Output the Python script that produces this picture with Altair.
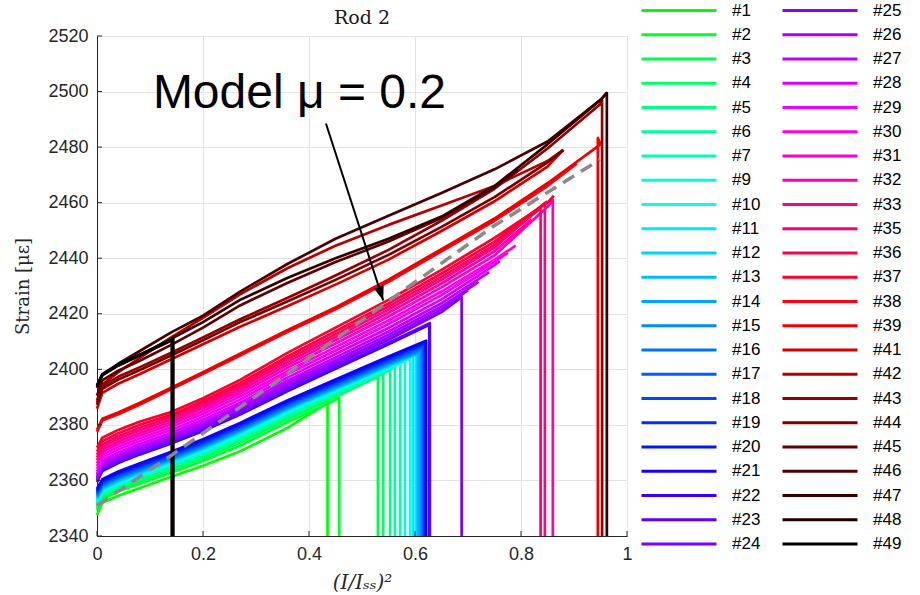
import altair as alt
import pandas as pd

# ---------------- data ----------------
LABELS = ["#1", "#2", "#3", "#4", "#5", "#6", "#7", "#9", "#10", "#11", "#12", "#13",
          "#14", "#15", "#16", "#17", "#18", "#19", "#20", "#21", "#22", "#23", "#24",
          "#25", "#26", "#27", "#28", "#29", "#30", "#31", "#32", "#33", "#35", "#36",
          "#37", "#38", "#39", "#41", "#42", "#43", "#44", "#45", "#46", "#47", "#48", "#49"]

COLORS = ["#00ff00", "#00ff2b", "#00ff4d", "#00ff6b", "#00ff88", "#00ffa3", "#00ffbe",
          "#00ffd8", "#00fff0", "#00eaff", "#00d2ff", "#00bbff", "#00a3ff", "#008cff",
          "#0074ff", "#005dff", "#0045ff", "#002eff", "#0016ff", "#1400ff", "#3800ff",
          "#5c00ff", "#7a00ff", "#8f00ff", "#a600ff", "#bd00ff", "#d600ff", "#f000ff",
          "#ff00e6", "#ff00c8", "#ff00a8", "#ff0088", "#ff0066", "#ff0048", "#ff002b",
          "#ff0010", "#f00000", "#d20000", "#b40000", "#960000", "#7a0000", "#600000",
          "#4a0000", "#340000", "#1e0000", "#000000"]

# (I/Iss)^2 sample points shared by all runs
GRID_X = [0, 0.01, 0.04, 0.08, 0.14, 0.2, 0.27, 0.36, 0.45, 0.55, 0.65, 0.75, 0.85, 0.95]

# strain read at GRID_X (only points before each run's end)
STRAIN = [
    [2347.5, 2352.0, 2354.5, 2357.2, 2361.3, 2365.3, 2370.5, 2379.0],
    [2349.2, 2353.3, 2356.0, 2358.8, 2362.8, 2367.0, 2372.5, 2381.0, 2389.0],
    [2350.0, 2354.0, 2356.8, 2359.6, 2363.7, 2368.0, 2373.7, 2382.0, 2390.0],
    [2350.5, 2354.5, 2357.3, 2360.1, 2364.2, 2368.6, 2374.3, 2382.6, 2390.5],
    [2351.0, 2354.9, 2357.7, 2360.6, 2364.7, 2369.1, 2374.9, 2383.2, 2391.0, 2399.5],
    [2351.4, 2355.3, 2358.1, 2361.0, 2365.1, 2369.6, 2375.4, 2383.7, 2391.4, 2399.8],
    [2351.8, 2355.6, 2358.4, 2361.3, 2365.5, 2370.0, 2375.9, 2384.1, 2391.8, 2400.1],
    [2352.2, 2356.0, 2358.8, 2361.7, 2365.9, 2370.4, 2376.3, 2384.5, 2392.1, 2400.4],
    [2352.6, 2356.3, 2359.1, 2362.0, 2366.3, 2370.8, 2376.7, 2384.9, 2392.4, 2400.7],
    [2353.0, 2356.7, 2359.5, 2362.4, 2366.7, 2371.2, 2377.1, 2385.3, 2392.7, 2401.0],
    [2353.4, 2357.0, 2359.8, 2362.7, 2367.0, 2371.5, 2377.4, 2385.6, 2393.0, 2401.3],
    [2353.8, 2357.3, 2360.1, 2363.0, 2367.3, 2371.8, 2377.7, 2385.9, 2393.3, 2401.6],
    [2354.2, 2357.7, 2360.5, 2363.4, 2367.6, 2372.1, 2378.0, 2386.2, 2393.6, 2401.9],
    [2354.6, 2358.0, 2360.8, 2363.7, 2367.9, 2372.4, 2378.3, 2386.5, 2393.9, 2402.2],
    [2355.0, 2358.4, 2361.2, 2364.1, 2368.3, 2372.8, 2378.7, 2386.9, 2394.3, 2402.6],
    [2355.4, 2358.8, 2361.6, 2364.5, 2368.7, 2373.2, 2379.1, 2387.3, 2394.7, 2403.0],
    [2355.8, 2359.2, 2362.0, 2364.9, 2369.1, 2373.6, 2379.5, 2387.7, 2395.1, 2403.4],
    [2356.2, 2359.6, 2362.4, 2365.3, 2369.5, 2374.0, 2379.9, 2388.1, 2395.5, 2403.8],
    [2356.6, 2360.0, 2362.8, 2365.7, 2369.9, 2374.4, 2380.3, 2388.5, 2395.9, 2404.2],
    [2357.0, 2360.4, 2363.2, 2366.1, 2370.3, 2374.8, 2380.7, 2388.9, 2396.3, 2404.6],
    [2359.4, 2363.4, 2366.3, 2369.3, 2373.3, 2377.8, 2383.7, 2392.2, 2400.2, 2409.0],
    [2359.9, 2363.9, 2366.8, 2369.8, 2373.8, 2378.3, 2384.2, 2392.8, 2400.8, 2409.6],
    [2360.5, 2364.5, 2367.4, 2370.4, 2374.4, 2378.9, 2384.8, 2393.5, 2401.6, 2410.6, 2420.6],
    [2361.0, 2365.0, 2367.9, 2370.9, 2375.0, 2379.5, 2385.5, 2394.3, 2402.4, 2411.5, 2421.6],
    [2361.6, 2365.6, 2368.5, 2371.5, 2375.6, 2380.2, 2386.2, 2395.1, 2403.3, 2412.5, 2422.6],
    [2362.3, 2366.3, 2369.2, 2372.2, 2376.3, 2381.0, 2387.1, 2396.0, 2404.3, 2413.6, 2423.8],
    [2363.2, 2367.2, 2370.1, 2373.1, 2377.2, 2381.9, 2388.0, 2397.1, 2405.5, 2414.9, 2425.2, 2437.5],
    [2364.2, 2368.2, 2371.1, 2374.1, 2378.2, 2382.9, 2389.1, 2398.3, 2406.8, 2416.3, 2426.7, 2438.6],
    [2365.2, 2369.2, 2372.1, 2375.1, 2379.2, 2384.0, 2390.2, 2399.4, 2408.0, 2417.6, 2428.0, 2439.5],
    [2366.2, 2370.2, 2373.1, 2376.1, 2380.2, 2385.0, 2391.3, 2400.6, 2409.3, 2419.0, 2429.5, 2441.0, 2458.5],
    [2367.2, 2371.1, 2374.0, 2377.0, 2381.1, 2386.0, 2392.3, 2401.7, 2410.5, 2420.3, 2430.9, 2442.5],
    [2368.2, 2372.1, 2375.0, 2378.0, 2382.0, 2386.9, 2393.3, 2402.7, 2411.6, 2421.5, 2432.2, 2443.8],
    [2369.2, 2373.0, 2375.9, 2378.9, 2382.9, 2387.8, 2394.2, 2403.7, 2412.6, 2422.6, 2433.3, 2444.8],
    [2370.4, 2374.1, 2377.0, 2380.0, 2383.6, 2388.6, 2395.1, 2404.7, 2413.7, 2423.7, 2434.5, 2446.0],
    [2371.8, 2375.4, 2378.2, 2381.1, 2384.6, 2389.6, 2396.2, 2406.0, 2415.0, 2425.0, 2435.8, 2447.3, 2460.0],
    [2377.5, 2381.6, 2383.8, 2387.2, 2392.8, 2398.4, 2405.0, 2413.5, 2421.6, 2431.5, 2442.5, 2453.5, 2466.0],
    [2378.2, 2382.2, 2384.5, 2387.9, 2393.4, 2399.0, 2405.6, 2414.2, 2422.3, 2432.3, 2443.3, 2454.3, 2467.0, 2481.0],
    [2385.8, 2391.5, 2394.8, 2398.2, 2403.6, 2409.0, 2415.3, 2422.8, 2430.5, 2439.5, 2449.8, 2460.5, 2473.0],
    [2388.0, 2394.5, 2399.0, 2404.0, 2411.5, 2418.5, 2427.0, 2436.5, 2444.5, 2452.0, 2459.0, 2466.0, 2475.0],
    [2388.8, 2394.0, 2397.3, 2400.7, 2406.0, 2411.5, 2418.0, 2425.8, 2433.8, 2443.0, 2453.5, 2465.0, 2479.5, 2495.5],
    [2387.2, 2393.0, 2396.3, 2399.7, 2405.0, 2410.5, 2417.0, 2424.5, 2432.2, 2441.2, 2451.3, 2462.0, 2474.5],
    [2390.5, 2396.0, 2399.5, 2403.0, 2408.8, 2415.0, 2423.0, 2431.2, 2438.6, 2446.0, 2454.5, 2465.5],
    [2393.3, 2398.0, 2402.0, 2406.5, 2413.3, 2419.3, 2428.0, 2438.0, 2447.0, 2455.3, 2463.5, 2472.0, 2482.0, 2497.0],
    [2393.6, 2397.8, 2401.3, 2405.0, 2411.0, 2417.0, 2425.0, 2433.0, 2440.0, 2447.0, 2455.0, 2466.0, 2481.0, 2497.0],
    [2394.0, 2398.0, 2401.5, 2405.0, 2410.3],
    [2394.3, 2398.3, 2401.8, 2405.3, 2410.6],
]

END_X = [0.435, 0.457, 0.530, 0.540, 0.553, 0.562, 0.572, 0.581, 0.591, 0.597, 0.603, 0.606,
         0.609, 0.612, 0.614, 0.616, 0.618, 0.619, 0.620, 0.621, 0.627, 0.628, 0.688,
         0.700, 0.720, 0.740, 0.760, 0.775, 0.790, 0.860, 0.820, 0.845, 0.837, 0.850,
         0.862, 0.905, 0.945, 0.880, 0.880, 0.953, 0.880, 0.795, 0.962, 0.962, 0.141, 0.144]
END_Y = [2387.8, 2389.8, 2397.4, 2398.4, 2399.9, 2401.1, 2402.1, 2403.0, 2404.0, 2404.8, 2405.5, 2406.0,
         2406.5, 2407.0, 2407.6, 2408.3, 2408.9, 2409.4, 2409.9, 2410.3, 2416.0, 2416.6, 2426.0,
         2428.5, 2431.5, 2435.0, 2439.0, 2442.0, 2444.5, 2461.0, 2454.0, 2459.9, 2458.0, 2460.5,
         2462.5, 2474.0, 2483.3, 2479.0, 2479.0, 2497.0, 2479.0, 2471.8, 2499.5, 2499.5, 2410.5, 2410.9]
# 1 = run ended in a quench (strain falls to the bottom of the axis)
QUENCH = [1, 1, 1, 1, 1, 1, 1, 1, 1, 1, 1, 1,
          1, 1, 1, 1, 1, 1, 1, 1, 1, 1, 1,
          0, 0, 0, 0, 0, 0, 1, 0, 1, 1, 0,
          0, 0, 1, 0, 0, 1, 0, 0, 0, 1, 1, 1]
AXIS_FLOOR = 2340

MODEL_X = [0, 0.14, 0.338, 0.553, 0.748, 0.949]
MODEL_Y = [2351.0, 2369.0, 2395.5, 2425.0, 2451.5, 2475.5]

ANNOT_TEXT = ["Model \u03bc = 0.2"]
ANNOT_X = [0.382]
ANNOT_Y = [2494.2]
ARROW_X = [0.432]
ARROW_Y = [2488.5]
ARROW_X2 = [0.540]
ARROW_Y2 = [2424.8]

X_TICKS = [0, 0.2, 0.4, 0.6, 0.8, 1]
Y_TICKS = [2340, 2360, 2380, 2400, 2420, 2440, 2460, 2480, 2500, 2520]

# ---------------- tables ----------------
rows = []
for k, lab in enumerate(LABELS):
    seq = 0
    for gx, gy in zip(GRID_X, STRAIN[k]):
        rows.append({"series": lab, "seq": seq, "x": gx, "y": gy})
        seq += 1
    rows.append({"series": lab, "seq": seq, "x": END_X[k], "y": END_Y[k]})
    seq += 1
    if QUENCH[k]:
        rows.append({"series": lab, "seq": seq, "x": END_X[k], "y": AXIS_FLOOR})
runs = pd.DataFrame(rows)

model = pd.DataFrame({"x": MODEL_X, "y": MODEL_Y})
annot = pd.DataFrame({"x": ANNOT_X, "y": ANNOT_Y, "t": ANNOT_TEXT})
arrow = pd.DataFrame({"x": ARROW_X, "y": ARROW_Y, "x2": ARROW_X2, "y2": ARROW_Y2})
head = pd.DataFrame({"x": ARROW_X2, "y": ARROW_Y2})
xt = pd.DataFrame({"x": X_TICKS})
yt = pd.DataFrame({"y": Y_TICKS})

AX = "#262626"
x_scale = alt.Scale(domain=[0, 1], nice=False, zero=False)
y_scale = alt.Scale(domain=[2340, 2520], nice=False, zero=False)
x_axis = alt.Axis(values=X_TICKS, format="~g", title="(I/I\u209b\u209b)\u00b2",
                  titleFont="DejaVu Serif", titleFontStyle="italic", titleFontWeight="normal",
                  titleFontSize=20, titleColor=AX, titleY=46, titleBaseline="middle",
                  labelFont="Liberation Sans", labelFontSize=18, labelColor=AX, labelPadding=9,
                  labelFlush=False, ticks=False, tickSize=0, domainColor=AX, domainWidth=1,
                  gridColor="#e3e3e3", gridWidth=1)
y_axis = alt.Axis(values=Y_TICKS, format="d", title="Strain [\u03bc\u03b5]",
                  titleFont="DejaVu Serif", titleFontWeight="normal", titleFontSize=18,
                  titleColor=AX, titlePadding=15,
                  labelFont="Liberation Sans", labelFontSize=18, labelColor=AX, labelPadding=9,
                  labelFlush=False, ticks=False, tickSize=0, domainColor=AX, domainWidth=1,
                  gridColor="#e3e3e3", gridWidth=1)

X = alt.X("x:Q", scale=x_scale, axis=x_axis)
Y = alt.Y("y:Q", scale=y_scale, axis=y_axis)

lines = alt.Chart(runs).mark_line(strokeWidth=2.7, strokeJoin="round").encode(
    x=X, y=Y,
    color=alt.Color("series:N", scale=alt.Scale(domain=LABELS, range=COLORS),
                    legend=alt.Legend(title=None, orient="none", legendX=543, legendY=-35.5,
                                      columns=2, symbolType="stroke", symbolSize=5625,
                                      symbolStrokeWidth=3, clipHeight=20, rowPadding=4.25,
                                      columnPadding=20, labelFontSize=17, symbolLimit=60,
                                      labelFont="Liberation Sans", labelColor="#000000",
                                      labelOffset=14, padding=0, symbolOffset=0)),
    order="seq:Q",
)

model_line = alt.Chart(model).mark_line(color="#8a8a8a", strokeWidth=3.5,
                                        strokeDash=[13, 8]).encode(x=X, y=Y)

arrow_line = alt.Chart(arrow).mark_rule(color="black", strokeWidth=2).encode(
    x=X, y=Y, x2="x2:Q", y2="y2:Q")

arrow_head = alt.Chart(head).mark_point(
    shape="M0,0L-0.36,-1L0.36,-1Z", size=784, filled=True, color="black", opacity=1,
    angle=342).encode(x=X, y=Y)

label = alt.Chart(annot).mark_text(fontSize=48, font="Liberation Sans", align="center",
                                   baseline="alphabetic", color="black").encode(
    x=X, y=Y, text="t:N")

xticks = alt.Chart(xt).mark_rule(color=AX, strokeWidth=1).encode(
    x=X, y=alt.value(500), y2=alt.value(495))
yticks = alt.Chart(yt).mark_rule(color=AX, strokeWidth=1).encode(
    y=Y, x=alt.value(0), x2=alt.value(5))

chart = alt.layer(lines, model_line, arrow_line, arrow_head, label, xticks, yticks).properties(
    width=530, height=500,
    title=alt.Title("Rod 2", font="DejaVu Serif", fontSize=19, fontWeight="normal",
                    color="#1a1a1a", anchor="middle", frame="group", offset=0, dy=27),
    autosize=alt.AutoSizeParams(type="none"),
    padding={"left": 97, "top": 36, "right": 293, "bottom": 59},
).configure_view(stroke=None).configure(background="white")

chart.save("out.html", embed_options={"renderer": "svg", "actions": False})
